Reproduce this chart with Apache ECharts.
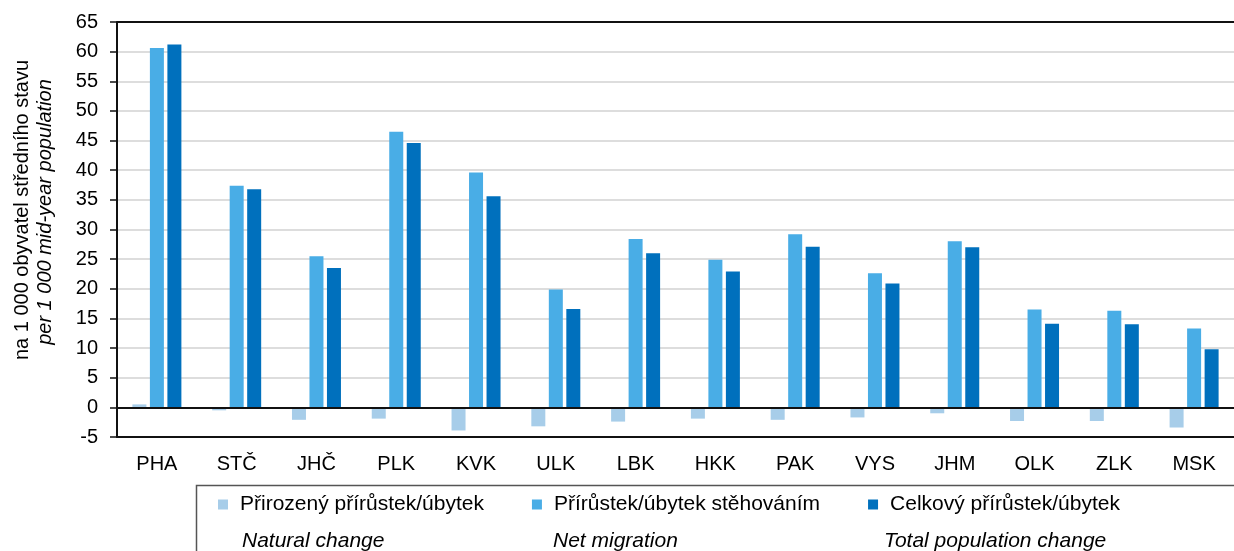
<!DOCTYPE html>
<html>
<head>
<meta charset="utf-8">
<script src="https://cdn.jsdelivr.net/npm/echarts@6/dist/echarts.min.js"></script>
<style>
  html, body { margin: 0; padding: 0; background: #fff; }
  #chart { width: 1234px; height: 551px; }
</style>
</head>
<body>
<div id="chart"></div>
<script>
  // kraje
  const regions = ['PHA', 'STČ', 'JHČ', 'PLK', 'KVK', 'ULK', 'LBK', 'HKK', 'PAK', 'VYS', 'JHM', 'OLK', 'ZLK', 'MSK']
  const naturalChange = [0.5, -0.5, -2.1, -1.9, -3.9, -3.2, -2.4, -1.9, -2.1, -1.7, -1.0, -2.3, -2.3, -3.4]
  const netMigration = [60.6, 37.4, 25.5, 46.5, 39.6, 19.9, 28.4, 24.9, 29.2, 22.6, 28.0, 16.5, 16.3, 13.3]
  const totalChange = [61.2, 36.8, 23.5, 44.6, 35.6, 16.6, 26.0, 22.9, 27.1, 20.9, 27.0, 14.1, 14.0, 9.8]
  const seriesNames = ['Přirozený přírůstek/úbytek', 'Přírůstek/úbytek stěhováním', 'Celkový přírůstek/úbytek']
  const seriesNamesEn = ['Natural change', 'Net migration', 'Total population change']
  const yTicks = { min: -5, max: 65, interval: 5 }

  const font = '"Liberation Sans", Arial, sans-serif'
  const chart = echarts.init(document.getElementById('chart'))

  chart.setOption({
    animation: false,
    color: ['#a7cde9', '#49ade6', '#0070bd'],
    textStyle: { fontFamily: font, color: '#000' },
    grid: {
      left: 117,
      top: 22,
      width: 1126,
      bottom: 114
    },
    xAxis: {
      type: 'category',
      data: regions,
      axisLine: { onZero: false, lineStyle: { color: '#111', width: 2 } },
      axisTick: { show: false },
      axisLabel: { fontSize: 20, color: '#000', margin: 17, fontFamily: font }
    },
    yAxis: {
      type: 'value',
      min: yTicks.min,
      max: yTicks.max,
      interval: yTicks.interval,
      axisLine: { show: true, lineStyle: { color: '#111', width: 2 } },
      axisTick: { show: true, length: 7, lineStyle: { color: '#111', width: 1.5 } },
      axisLabel: { fontSize: 20, color: '#000', margin: 19, fontFamily: font },
      splitLine: { lineStyle: { color: '#d2d2d2', width: 1.5 } }
    },
    legend: {
      left: 196,
      top: 485,
      data: seriesNames,
      icon: 'rect',
      itemWidth: 10,
      itemHeight: 10,
      itemGap: 48,
      padding: [9, 0, 0, 22],
      textStyle: { fontSize: 21, color: '#000', fontFamily: font, padding: [0, 0, 0, 7] }
    },
    graphic: [
      {
        type: 'text', x: 22, y: 210, rotation: Math.PI / 2,
        style: { text: 'na 1 000 obyvatel středního stavu', font: '20px ' + font, fill: '#000', align: 'center', verticalAlign: 'middle' }
      },
      {
        type: 'text', x: 45, y: 212, rotation: Math.PI / 2,
        style: { text: 'per 1 000 mid-year population', font: 'italic 20px ' + font, fill: '#000', align: 'center', verticalAlign: 'middle' }
      },
      // rámeček legendy
      {
        type: 'rect', silent: true,
        shape: { x: 196.5, y: 485.5, width: 1100, height: 120 },
        style: { fill: 'none', stroke: '#555', lineWidth: 1.5 }
      },
      { type: 'text', x: 242, y: 541, style: { text: seriesNamesEn[0], font: 'italic 21px ' + font, fill: '#000', verticalAlign: 'middle' } },
      { type: 'text', x: 553, y: 541, style: { text: seriesNamesEn[1], font: 'italic 21px ' + font, fill: '#000', verticalAlign: 'middle' } },
      { type: 'text', x: 884, y: 541, style: { text: seriesNamesEn[2], font: 'italic 21px ' + font, fill: '#000', verticalAlign: 'middle' } }
    ],
    series: [
      {
        name: seriesNames[0],
        type: 'bar',
        data: naturalChange,
        barWidth: 14,
        barGap: '25%',
        markLine: {
          silent: true,
          symbol: 'none',
          label: { show: false },
          lineStyle: { color: '#111', width: 2, type: 'solid' },
          data: [{ yAxis: 0 }, { yAxis: 65 }]
        }
      },
      { name: seriesNames[1], type: 'bar', data: netMigration, barWidth: 14, barGap: '25%' },
      { name: seriesNames[2], type: 'bar', data: totalChange, barWidth: 14, barGap: '25%' }
    ]
  })
</script>
</body>
</html>
